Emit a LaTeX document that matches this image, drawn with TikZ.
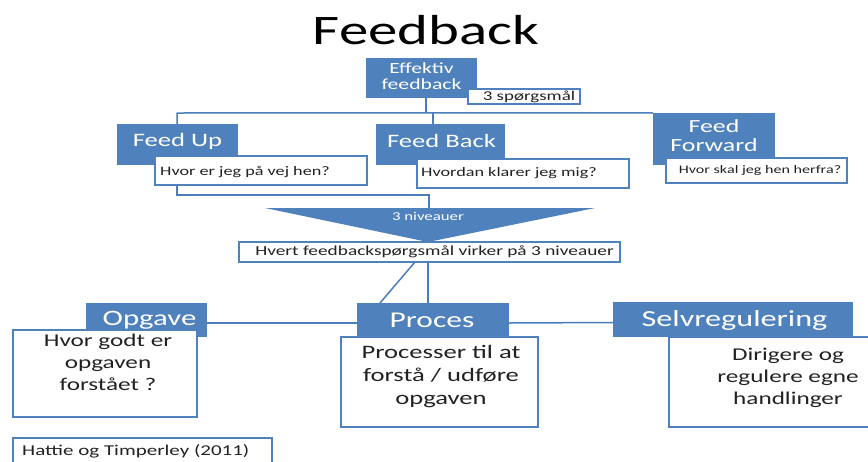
\documentclass[tikz,border=0pt]{standalone}
\usepackage{fontspec}
\setmainfont{Carlito}[FakeStretch=1.4]
\definecolor{ob}{HTML}{4F81BD}
\definecolor{ln}{HTML}{4A7EBB}
\definecolor{tx}{HTML}{222222}
\tikzset{
 bluebox/.style={fill=ob, draw=none, inner sep=0pt},
 whitebox/.style={fill=white, draw=ob, line width=1.3pt, inner sep=0pt},
 wtxt/.style={text=white, inner sep=0pt, align=center},
 dtxt/.style={text=tx, inner sep=0pt, align=center},
 conn/.style={draw=ln, line width=1.5pt},
 sz/.style 2 args={font=\fontsize{#1}{#2}\selectfont},
}
\begin{document}
\begin{tikzpicture}[x=1pt,y=-1pt]
\useasboundingbox (0,0) rectangle (868,461);
\clip (0,0) rectangle (868,461);
% title
\node[dtxt, sz={42}{48}, text=black] (title) at (426,30) {Feedback};
% connectors top
\coordinate (hub) at (426,113);
\coordinate (hubL) at (177,113);
\coordinate (hubB) at (433,113);
% top boxes
\node[bluebox, minimum width=111pt, minimum height=40pt] (effb) at (421.5,78) {};
\node[wtxt, sz={15.5}{16}] (efft) at (421.5,76) {Effektiv\\feedback};
\node[whitebox, minimum width=112pt, minimum height=15pt] (q3) at (524,96.5) {};
\node[dtxt, sz={13.5}{14}] (q3t) at (529,96.5) {3 spørgsmål};

\node[bluebox, minimum width=121pt, minimum height=41pt] (fu) at (177.5,144.5) {};
\node[wtxt, sz={19}{22}] (fut) at (177.5,141) {Feed Up};
\node[whitebox, minimum width=212pt, minimum height=29pt] (fuq) at (261,170.5) {};
\node[dtxt, sz={13}{15}, anchor=west] (fuqt) at (160,172) {Hvor er jeg på vej hen?};

\node[bluebox, minimum width=129pt, minimum height=41pt] (fb) at (440.5,144.5) {};
\node[wtxt, sz={19}{22}] (fbt) at (441.5,141) {Feed Back};
\node[whitebox, minimum width=212pt, minimum height=29pt] (fbq) at (523,173.5) {};
\node[dtxt, sz={13}{15}, anchor=west] (fbqt) at (421,173.5) {Hvordan klarer jeg mig?};

\node[bluebox, minimum width=122pt, minimum height=52pt] (ff) at (714,139) {};
\node[wtxt, sz={18.5}{19}] (fft) at (714,136) {Feed\\Forward};
\node[whitebox, minimum width=181pt, minimum height=25pt] (ffq) at (756.5,170.5) {};
\node[dtxt, sz={11.5}{14}] (ffqt) at (760,170.5) {Hvor skal jeg hen herfra?};

\draw[conn] (effb.south -| hub) -- (hub);
\draw[conn] (fu.north -| hubL) -- (hubL) -- (ff.north west);
\draw[conn] (hubB) -- (fb.north -| hubB);

% bracket + triangle
\coordinate (b1) at (177,195);
\coordinate (b2) at (429,195);
\coordinate (tri1) at (265,208);
\coordinate (tri2) at (595,208);
\coordinate (tri3) at (428,242);
\draw[conn] (fuq.south -| b1) -- (b1) -- (b2) -- (b2 |- tri1);
\fill[ob] (tri1) -- (tri2) -- (tri3) -- cycle;
\node[wtxt, sz={12}{14}] (nivt) at (428,216) {3 niveauer};

\node[whitebox, minimum width=381pt, minimum height=20pt] (lvl) at (429.5,252) {};
\node[dtxt, sz={13.8}{15}] (lvlt) at (434.5,252) {Hvert feedbackspørgsmål virker på 3 niveauer};

% bottom level
\node[bluebox, minimum width=121pt, minimum height=34pt] (opg) at (146.5,320) {};
\node[wtxt, sz={22}{24}] (opgt) at (149.5,320) {Opgave};
\node[bluebox, minimum width=152pt, minimum height=34pt] (proc) at (433,320) {};
\node[wtxt, sz={22.5}{24}] (proct) at (432,320) {Proces};
\node[bluebox, minimum width=240pt, minimum height=35pt] (selv) at (733,319.5) {};
\node[wtxt, sz={23}{24}] (selvt) at (734.5,320) {Selvregulering};

\coordinate (l1) at (428,262);
\coordinate (l2) at (415,262);
\coordinate (l3) at (380,303);
\draw[conn] (l1) -- (l1 |- proc.north);
\draw[conn] (l2) -- (l3);
\draw[conn] ([yshift=-3pt]opg.east) -- ([yshift=-3pt]proc.west);
\draw[conn] ([yshift=-3pt]proc.east) -- ([yshift=-3pt]selv.west);

\node[whitebox, minimum width=184pt, minimum height=87pt] (opgq) at (105,373.5) {};
\node[dtxt, sz={18}{22}] (opgqt) at (108,362) {Hvor godt er\\opgaven\\forstået ?};
\node[whitebox, minimum width=197pt, minimum height=90pt] (procq) at (439.5,382) {};
\node[dtxt, sz={19}{23}] (procqt) at (441,377) {Processer til at\\forstå / udføre\\opgaven};
\node[whitebox, minimum width=240pt, minimum height=90pt] (selvq) at (789,382) {};
\node[dtxt, sz={18}{22}] (selvqt) at (788,378) {Dirigere og\\regulere egne\\handlinger};

% reference
\node[whitebox, minimum width=259pt, minimum height=40pt] (ref) at (142.5,458) {};
\node[dtxt, sz={15}{17}, anchor=west] (reft) at (22,451) {Hattie og Timperley (2011)};
\end{tikzpicture}
\end{document}
